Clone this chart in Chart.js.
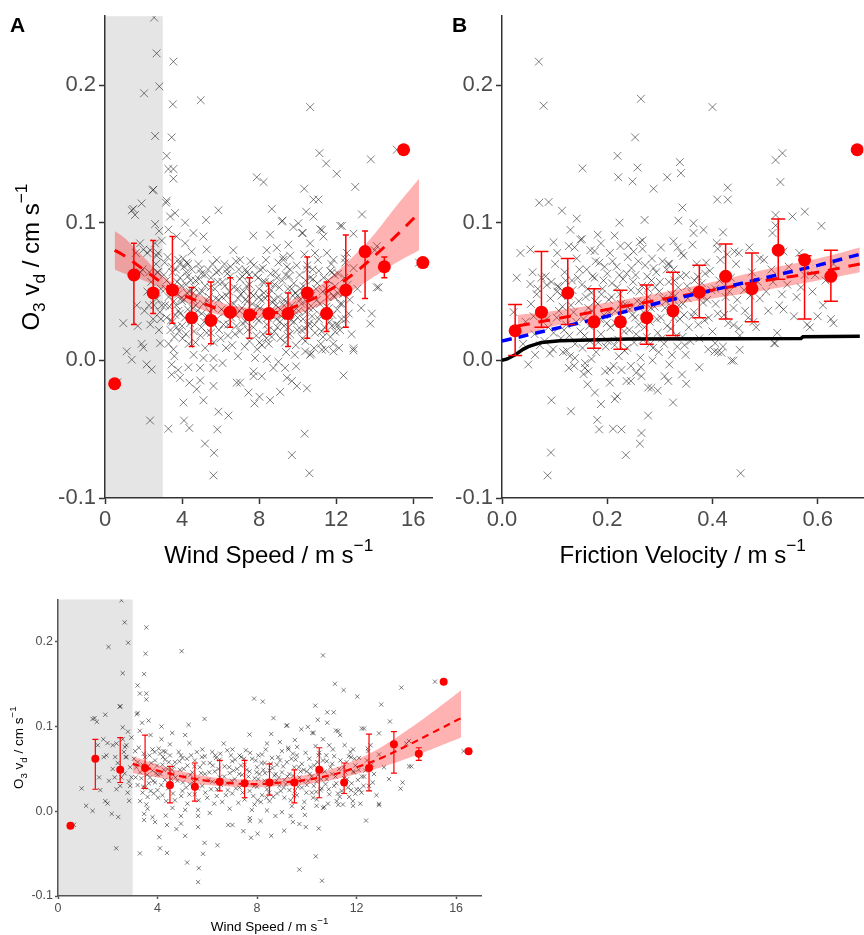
<!DOCTYPE html>
<html>
<head>
<meta charset="utf-8">
<script src="https://cdn.jsdelivr.net/npm/chart.js@4.4.1/dist/chart.umd.min.js"></script>
<style>
  html, body { margin: 0; padding: 0; background: #fff; overflow: hidden; width: 864px; height: 935px; }
  canvas { position: absolute; }
</style>
</head>
<body>
<canvas id="panelA" width="439" height="570" style="left:0;top:0"></canvas>
<canvas id="panelB" width="438" height="570" style="left:432px;top:0"></canvas>
<canvas id="panelC" width="486" height="345" style="left:0;top:590px"></canvas>
<script>
const FONT = "'Liberation Sans', Arial, Helvetica, sans-serif";

// ticks
const vdTicks = [-0.1, 0, 0.1, 0.2];
const vdTickLabels = ['-0.1', '0.0', '0.1', '0.2'];
const windTicks = [0, 4, 8, 12, 16];
const windTickLabels = ['0', '4', '8', '12', '16'];
const ustarTicks = [0, 0.2, 0.4, 0.6];
const ustarTickLabels = ['0.0', '0.2', '0.4', '0.6'];

// binned O3 vd vs wind speed (means and error bars)
const windBins = [0.5, 1.5, 2.5, 3.5, 4.5, 5.5, 6.5, 7.5, 8.5, 9.5, 10.5, 11.5, 12.5, 13.5, 14.5, 15.5, 16.5];
const windMean = [-0.017, 0.062, 0.049, 0.051, 0.031, 0.029, 0.035, 0.033, 0.034, 0.034, 0.049, 0.034, 0.051, 0.079, 0.068, 0.153, 0.071];
const windLo = [null, 0.026, 0.034, 0.027, 0.010, 0.012, 0.024, 0.016, 0.019, 0.010, 0.016, 0.021, 0.024, 0.045, 0.060, null, null];
const windHi = [null, 0.085, 0.087, 0.090, 0.053, 0.057, 0.060, 0.060, 0.056, 0.049, 0.075, 0.057, 0.091, 0.094, 0.075, null, null];

// fitted curve + confidence ribbon, panel A (all data)
const fitAx = [0.5, 1, 2, 3, 4, 5, 6, 7, 8, 9, 10, 11, 12, 13, 14, 15, 16.3];
const fitAy = [0.080, 0.076, 0.066, 0.056, 0.048, 0.042, 0.037, 0.035, 0.034, 0.035, 0.040, 0.046, 0.054, 0.064, 0.076, 0.089, 0.107];
const fitAlo = [0.066, 0.063, 0.058, 0.052, 0.044, 0.037, 0.033, 0.031, 0.031, 0.031, 0.034, 0.039, 0.045, 0.052, 0.061, 0.070, 0.080];
const fitAhi = [0.094, 0.089, 0.075, 0.061, 0.053, 0.047, 0.042, 0.039, 0.038, 0.039, 0.046, 0.053, 0.064, 0.077, 0.092, 0.110, 0.132];

// fitted curve + ribbon, panel C (wind > 3 m/s)
const fitCx = [3, 4, 5, 6, 7, 8, 9, 10, 11, 12, 13, 14, 15, 16.2];
const fitCy = [0.056, 0.048, 0.041, 0.036, 0.033, 0.032, 0.034, 0.037, 0.043, 0.052, 0.063, 0.077, 0.092, 0.110];
const fitClo = [0.045, 0.040, 0.035, 0.031, 0.029, 0.028, 0.030, 0.032, 0.037, 0.044, 0.052, 0.062, 0.073, 0.087];
const fitChi = [0.065, 0.055, 0.047, 0.041, 0.038, 0.037, 0.039, 0.043, 0.050, 0.061, 0.076, 0.095, 0.116, 0.143];

// binned O3 vd vs friction velocity
const ustarBins = [0.025, 0.075, 0.125, 0.175, 0.225, 0.275, 0.325, 0.375, 0.425, 0.475, 0.525, 0.575, 0.625, 0.675];
const ustarMean = [0.0215, 0.035, 0.049, 0.028, 0.028, 0.031, 0.036, 0.0495, 0.061, 0.052, 0.080, 0.073, 0.061, 0.153];
const ustarLo = [0.0036, 0.024, 0.026, 0.0088, 0.008, 0.0117, 0.018, 0.031, 0.030, 0.028, 0.059, 0.030, 0.043, null];
const ustarHi = [0.0406, 0.079, 0.074, 0.052, 0.051, 0.0547, 0.064, 0.069, 0.0846, 0.078, 0.1027, 0.076, 0.080, null];

// linear fit + ribbon, panel B
const fitBx = [0.03, 0.1, 0.2, 0.3, 0.4, 0.5, 0.6, 0.68];
const fitBy = [0.025, 0.030, 0.037, 0.044, 0.051, 0.058, 0.064, 0.070];
const fitBlo = [0.017, 0.025, 0.032, 0.039, 0.045, 0.051, 0.058, 0.064];
const fitBhi = [0.033, 0.036, 0.042, 0.049, 0.057, 0.066, 0.074, 0.082];

// model curves, panel B
const modelBlueX = [0, 0.1, 0.2, 0.3, 0.4, 0.5, 0.6, 0.68];
const modelBlueY = [0.014, 0.023, 0.032, 0.042, 0.051, 0.060, 0.069, 0.077];
const modelBlackX = [0, 0.01, 0.025, 0.04, 0.05, 0.075, 0.11, 0.24, 0.568, 0.572, 0.68];
const modelBlackY = [0, 0.001, 0.004, 0.008, 0.010, 0.013, 0.0143, 0.0155, 0.0158, 0.0172, 0.0175];

// individual observations [wind speed, vd]
const windObs = [
  [0.64,-0.016],[0.95,0.027],[1.13,0.0065],[1.39,0.0005],[1.47,0.110],[1.56,0.1056],[1.9,0.114],[1.99,0.0093],[1.9,0.012],[2.16,-0.003],
  [2.42,-0.0067],[2.34,-0.0437],[2.51,0.124],[2.6,0.099],[1.82,0.085],[1.99,0.0805],[2.2,0.078],[2.35,0.080],[2.6,0.085],[2.75,0.078],
  [1.6,0.078],[1.95,0.066],[2.4,0.057],[2.68,0.0447],[2.5,0.030],[1.65,0.040],[2.55,0.040],[1.7,0.025],[2.35,0.026],[2.86,0.0124],
  [2.8,0.022],[2.9,0.052],[2.72,0.064],[2.85,0.035],[2.2,0.050],[2.05,0.036],[2.55,0.249],[2.68,0.223],[2.82,0.199],[2.03,0.194],
  [2.6,0.163],[2.48,0.1235],[1.39,0.109],[2.95,0.087],[2.81,0.094],[2.28,0.040],[1.84,0.064],[2.69,0.076],[2.75,0.064],[2.95,0.040],
  [2.65,0.070],[2.3,0.064],[2.9,0.030],
  [3.55,0.217],[4.97,0.189],[3.52,0.186],[10.65,0.184],[3.46,0.162],[15.15,0.153],[11.13,0.1505],[11.48,0.143],[13.8,0.146],[3.2,0.1486],
  [3.29,0.139],[3.55,0.139],[3.55,0.132],[7.88,0.133],[8.23,0.1295],[12.03,0.1355],[12.99,0.126],[10.34,0.1247],[10.82,0.1168],[11.08,0.1168],
  [3.17,0.1145],[3.2,0.116],[5.89,0.109],[5.25,0.102],[8.66,0.110],[13.34,0.106],[10.44,0.108],[10.82,0.1045],[9.21,0.1015],[10.04,0.0996],
  [3.38,0.1045],[3.64,0.107],[4.16,0.100],[9.78,0.0968],[10.27,0.0925],[11.26,0.0948],[12.21,0.0977],[12.9,0.092],[4.59,0.0925],[5.28,0.0805],
  [8.57,0.0913],[7.7,0.0906],[14.11,0.083],[14.0,0.080],[14.11,0.053],[16.3,0.071],[11.69,0.065],[12.9,0.067],[13.85,0.034],[13.77,0.0267],
  [12.9,0.0088],[11.78,0.0638],[11.86,0.047],[12.21,0.041],[12.12,0.0256],[11.95,0.0208],[11.52,0.0781],[12.47,0.071],[14.2,0.053],[9.52,0.0841],
  [8.92,0.0817],[11.17,0.0953],[12.3,0.0977],[9.18,0.1009],[3.29,0.095],[3.72,0.090],[4.16,0.085],[4.5,0.079],[5.11,0.090],[5.8,0.073],
  [6.66,0.080],[7.01,0.073],[8.4,0.080],[9.26,0.073],[9.61,0.076],[10.22,0.0925],[10.65,0.085],[10.9,0.078],[11.34,0.090],[11.86,0.073],
  [12.56,0.078],[4.24,0.071],[4.94,0.066],[6.32,0.066],[7.36,0.064],[8.05,0.066],[9.44,0.068],[10.48,0.066],
  [3.29,-0.0497],[4.07,-0.0306],[4.1,-0.0437],[4.38,-0.0492],[4.33,-0.005],[3.46,-0.003],[3.9,-0.0127],[4.38,-0.0162],[4.76,-0.021],[4.94,-0.0146],
  [5.11,-0.029],[4.94,-0.0055],[5.63,-0.0055],[5.63,-0.0186],[5.89,-0.0373],[6.41,-0.0401],[5.83,-0.0502],[5.19,-0.0605],[5.66,-0.0672],[5.63,-0.0836],
  [6.84,-0.0162],[7.01,-0.0162],[7.45,-0.0234],[7.76,-0.0313],[8.02,-0.0265],[8.57,-0.0289],[9.09,-0.0229],[9.44,-0.0127],[9.96,-0.0186],[10.48,-0.0203],
  [9.7,-0.015],[10.36,-0.0533],[9.7,-0.0688],[10.61,-0.082],[12.38,-0.011],[12.9,0.0072],[7.71,-0.0115],[8.14,-0.0115],[7.71,-0.008],[8.74,-0.0055],
  [9.92,-0.0043],[7.79,0.0017],[5.11,0.0017],[5.63,0.0017],[3.46,-0.0103],[9.35,-0.0055],[10.39,0.0065],[11.86,0.0065],[11.26,0.0077],[10.65,0.004],
  [3.6,0.003],[4.6,0.004],[6.1,-0.002],[6.9,0.003],[8.4,0.001],[9.0,-0.001],[3.8,-0.007],
  [3.1,0.071],[3.2,0.058],[3.3,0.046],[3.2,0.031],[3.4,0.022],[3.3,0.012],[3.5,0.064],[3.6,0.052],[3.7,0.040],[3.5,0.028],
  [3.8,0.073],[3.6,0.017],[3.9,0.060],[3.8,0.048],[3.9,0.034],[4.0,0.025],[4.1,0.068],[4.2,0.055],[4.0,0.043],[4.3,0.061],
  [4.3,0.037],[4.2,0.019],[4.4,0.050],[4.5,0.066],[4.6,0.044],[4.5,0.029],[4.7,0.058],[4.8,0.036],[4.7,0.013],[4.9,0.049],
  [5.0,0.063],[5.0,0.024],[5.1,0.041],[5.2,0.054],[5.3,0.032],[5.2,0.009],[5.4,0.046],[5.5,0.060],[5.6,0.038],[5.5,0.020],
  [5.7,0.052],[5.8,0.030],[5.9,0.065],[5.9,0.044],[6.0,0.016],[6.1,0.057],[6.2,0.035],[6.2,0.070],[6.3,0.047],[6.4,0.026],
  [6.5,0.061],[6.5,0.040],[6.6,0.011],[6.7,0.053],[6.8,0.033],[6.8,0.072],[6.9,0.045],[7.0,0.021],[7.0,0.059],[7.1,0.038],
  [7.2,0.050],[7.3,0.028],[7.3,0.066],[7.4,0.043],[7.5,0.014],[7.5,0.055],[7.6,0.034],[7.7,0.047],[7.7,0.024],[7.8,0.062],
  [7.9,0.039],[7.9,0.008],[8.0,0.052],[8.0,0.029],[8.1,0.044],[8.2,0.019],[8.2,0.067],[8.3,0.036],[8.3,0.057],[8.4,0.026],
  [8.5,0.048],[8.5,0.012],[8.6,0.063],[8.6,0.033],[8.7,0.042],[8.8,0.021],[8.8,0.055],[8.9,0.030],[9.0,0.046],[9.0,0.071],
  [9.1,0.016],[9.1,0.037],[9.2,0.058],[9.3,0.025],[9.3,0.044],[9.4,0.006],[9.4,0.034],[9.5,0.052],[9.6,0.019],[9.6,0.066],
  [9.7,0.040],[9.8,0.028],[9.8,0.056],[9.9,0.011],[10.0,0.047],[10.0,0.031],[10.1,0.062],[10.2,0.022],[10.2,0.041],[10.3,0.054],
  [10.4,0.014],[10.4,0.035],[10.5,0.069],[10.6,0.027],[10.6,0.048],[10.7,0.005],[10.8,0.038],[10.8,0.059],[10.9,0.020],[11.0,0.044],
  [11.1,0.030],[11.1,0.065],[11.2,0.012],[11.3,0.050],[11.4,0.024],[11.5,0.039],[11.6,0.058],[11.7,0.017],[11.8,0.033],[11.9,0.046],
  [12.0,0.026],[12.1,0.063],[12.2,0.022],[12.3,0.041],[12.5,0.030],[12.6,0.055],[12.8,0.019],
  [3.15,0.052],[3.35,0.039],[3.45,0.068],[3.55,0.008],[3.65,0.033],[3.75,0.057],[3.85,0.021],[3.95,0.045],[4.05,0.074],[4.15,0.031],
  [4.25,0.049],[4.35,0.012],[4.45,0.058],[4.55,0.038],[4.65,0.053],[4.85,0.070],[4.95,0.018],[5.05,0.050],[5.15,0.028],[5.35,0.066],
  [5.45,0.035],[5.65,0.013],[5.75,0.045],[5.85,0.057],[6.05,0.037],[6.15,0.026],[6.35,0.063],[6.45,0.050],[6.55,0.031],[6.75,0.019],
  [6.95,0.066],[7.05,0.048],[7.15,0.027],[7.25,0.010],[7.35,0.054],[7.45,0.035],[7.55,0.072],[7.65,0.041],[7.85,0.018],[7.95,0.060],
  [8.05,0.038],[8.15,0.011],[8.25,0.049],[8.35,0.073],[8.45,0.031],[8.55,0.056],[8.65,0.017],[8.75,0.044],[8.85,0.064],[8.95,0.024],
  [9.05,0.053],[9.15,0.032],[9.25,0.075],[9.35,0.013],[9.45,0.042],[9.55,0.061],[9.65,0.029],[9.75,0.047],[9.85,0.004],[9.95,0.069],
  [10.05,0.036],[10.15,0.052],[10.25,0.016],[10.35,0.077],[10.45,0.043],[10.55,0.025],[10.65,0.060],[10.75,0.032],[10.85,0.009],[10.95,0.052],
  [11.05,0.073],[11.15,0.041],[11.25,0.021],[11.35,0.060],[11.45,0.008],[11.55,0.046],[11.65,0.028],[11.75,0.070],[11.85,0.012],[11.95,0.054],
  [12.05,0.037],[12.15,0.009],[12.35,0.048],[12.45,0.074],[12.65,0.034],
  [3.05,0.062],[3.25,0.075],[3.4,0.055],[3.58,0.043],[3.68,0.066],[3.82,0.036],[3.98,0.054],[4.12,0.044],[4.22,0.064],[4.42,0.027],
  [4.58,0.049],[4.72,0.040],[4.88,0.059],[5.02,0.034],[5.18,0.062],[5.32,0.043],[5.48,0.053],[5.62,0.027],[5.78,0.064],[5.92,0.022],
  [6.08,0.046],[6.22,0.054],[6.38,0.018],[6.52,0.068],[6.68,0.041],[6.82,0.025],[6.98,0.036],[7.12,0.061],[7.28,0.044],[7.42,0.022],
  [7.58,0.049],[7.72,0.069],[7.88,0.030],[8.02,0.013],[8.18,0.057],[8.32,0.045],[8.48,0.022],[8.62,0.051],[8.78,0.036],[8.92,0.060],
  [9.08,0.028],[9.22,0.041],[9.38,0.062],[9.52,0.024],[9.68,0.052],[9.82,0.036],[9.98,0.022],[10.12,0.044],[10.28,0.030],[10.42,0.058],
  [10.58,0.038],[10.72,0.047],[10.88,0.026],[11.02,0.056],[11.18,0.033],[11.32,0.017],[11.48,0.052],[11.62,0.038],[11.78,0.025],[11.92,0.062],
  [12.08,0.049],[12.28,0.030],[12.42,0.060],[12.7,0.044],[13.1,0.052],[13.3,0.038],[3.12,0.040],[3.42,0.029],[3.72,0.024],[3.88,0.070],
  [4.02,0.016],[4.32,0.070],[4.62,0.021],[5.28,0.020],[5.58,0.070],[6.28,0.009],[6.88,0.052],[7.48,0.062],[7.98,0.046],[8.38,0.016],
  [8.88,0.040],[9.48,0.018],[9.88,0.049],[10.38,0.023],[10.78,0.066]
];

// individual observations [friction velocity, vd]
const ustarObs = [
  [0.070,0.217],[0.079,0.185],[0.264,0.190],[0.40,0.184],[0.253,0.162],[0.2195,0.1486],[0.2575,0.140],[0.153,0.1395],[0.221,0.133],[0.248,0.130],
  [0.338,0.144],[0.340,0.136],[0.314,0.133],[0.288,0.1247],[0.52,0.1455],[0.533,0.1505],[0.529,0.1295],[0.429,0.1255],[0.429,0.1168],[0.409,0.1168],
  [0.0708,0.1145],[0.0886,0.115],[0.114,0.1087],[0.142,0.103],[0.2233,0.100],[0.271,0.102],[0.343,0.111],[0.52,0.1056],[0.552,0.1045],[0.5755,0.108],
  [0.607,0.0977],[0.335,0.1015],[0.364,0.0996],[0.364,0.0925],[0.383,0.0948],[0.42,0.093],[0.514,0.0925],[0.52,0.098],[0.054,0.0805],[0.054,0.0554],
  [0.085,0.0547],[0.106,0.054],[0.098,0.0858],[0.105,0.078],[0.13,0.0948],[0.127,0.083],[0.149,0.0877],[0.182,0.0913],[0.214,0.0906],[0.176,0.0794],
  [0.24,0.0834],[0.267,0.0872],[0.267,0.081],[0.326,0.0865],[0.334,0.082],[0.408,0.0853],[0.442,0.079],[0.45,0.078],[0.47,0.082],[0.49,0.074],
  [0.535,0.079],[0.565,0.078],[0.63,0.070],
  [0.050,-0.003],[0.094,-0.029],[0.131,-0.037],[0.093,-0.067],[0.0867,-0.0836],[0.127,-0.0055],[0.091,0.005],[0.063,0.004],[0.123,0.007],[0.1385,0.0017],
  [0.1575,-0.0055],[0.155,-0.010],[0.164,-0.008],[0.1625,-0.0174],[0.1765,-0.0234],[0.188,-0.0318],[0.181,-0.0432],[0.1846,-0.0502],[0.211,-0.0497],[0.227,-0.0502],
  [0.2145,-0.0282],[0.219,-0.026],[0.205,-0.0162],[0.205,-0.007],[0.227,-0.007],[0.2366,-0.015],[0.245,-0.015],[0.245,-0.004],[0.264,-0.005],[0.265,-0.0115],
  [0.2777,-0.0198],[0.284,-0.02],[0.296,-0.022],[0.2777,-0.0401],[0.265,-0.0528],[0.262,-0.0605],[0.2353,-0.0688],[0.309,-0.0115],[0.316,-0.015],[0.325,-0.0306],
  [0.342,-0.0103],[0.35,-0.017],[0.436,-0.0002],[0.4516,0.0077],[0.517,0.0124],[0.4535,-0.082],[0.404,0.0065],[0.417,0.0055],[0.44,0.0256],[0.45,0.0232],
  [0.478,0.028],[0.519,0.0124],[0.535,0.037],[0.585,0.024],[0.6,0.032],[0.63,0.027],[0.405,0.0124],[0.41,0.006],[0.44,-0.0002],
  [0.045,0.028],[0.055,0.041],[0.062,0.019],[0.068,0.052],[0.072,0.011],[0.078,0.034],[0.083,0.061],[0.088,0.024],[0.092,0.045],[0.097,0.008],
  [0.101,0.070],[0.104,0.031],[0.108,0.053],[0.112,0.016],[0.115,0.039],[0.119,0.064],[0.122,0.026],[0.126,0.047],[0.129,0.003],[0.133,0.058],
  [0.136,0.035],[0.139,0.012],[0.142,0.074],[0.146,0.043],[0.149,0.021],[0.152,0.055],[0.155,0.030],[0.158,-0.002],[0.161,0.066],[0.164,0.038],
  [0.167,0.014],[0.170,0.049],[0.173,0.027],[0.176,0.060],[0.179,0.006],[0.182,0.041],[0.185,0.071],[0.188,0.019],[0.191,0.052],[0.194,0.033],
  [0.197,0.010],[0.200,0.063],[0.203,0.044],[0.206,0.024],[0.209,0.056],[0.212,-0.004],[0.215,0.036],[0.218,0.068],[0.221,0.015],[0.224,0.048],
  [0.227,0.029],[0.230,0.059],[0.233,0.007],[0.236,0.040],[0.239,0.075],[0.242,0.022],[0.245,0.051],[0.248,0.033],[0.251,0.013],[0.254,0.062],
  [0.257,0.043],[0.260,0.026],[0.263,0.002],[0.266,0.054],[0.269,0.035],[0.272,0.069],[0.275,0.017],[0.278,0.046],[0.281,0.028],[0.284,0.058],
  [0.287,0.009],[0.290,0.039],[0.293,0.064],[0.296,0.020],[0.299,0.050],[0.302,0.031],[0.305,0.072],[0.308,0.012],[0.311,0.043],[0.314,0.025],
  [0.317,0.057],[0.320,0.036],[0.323,0.004],[0.326,0.066],[0.329,0.047],[0.332,0.018],[0.335,0.053],[0.338,0.030],[0.341,0.078],[0.344,0.041],
  [0.347,0.011],[0.350,0.062],[0.355,0.024],[0.360,0.049],[0.365,0.035],[0.370,0.070],[0.375,0.016],[0.380,0.056],[0.385,0.029],[0.390,0.044],
  [0.395,0.065],[0.400,0.021],[0.405,0.052],[0.410,0.034],[0.415,0.073],[0.420,0.010],[0.425,0.046],[0.430,0.027],[0.435,0.060],[0.440,0.038],
  [0.445,0.070],[0.452,0.018],[0.460,0.051],[0.468,0.031],[0.475,0.064],[0.483,0.024],[0.490,0.045],[0.498,0.073],[0.506,0.036],[0.515,0.057],
  [0.523,0.020],[0.532,0.048],[0.545,0.068],[0.555,0.032],[0.568,0.053],[0.580,0.026],[0.595,0.062],[0.610,0.040],[0.625,0.030],
  [0.105,0.050],[0.118,0.022],[0.131,0.040],[0.144,0.060],[0.157,0.018],[0.163,0.052],[0.171,0.036],[0.178,0.072],[0.186,0.030],[0.193,0.058],
  [0.201,0.014],[0.208,0.046],[0.216,0.027],[0.223,0.062],[0.231,0.040],[0.238,0.009],[0.246,0.067],[0.253,0.031],[0.261,0.050],[0.268,0.015],
  [0.276,0.061],[0.283,0.038],[0.291,0.053],[0.298,0.006],[0.306,0.045],[0.313,0.066],[0.321,0.023],[0.328,0.058],[0.336,0.040],[0.343,0.017],
  [0.352,0.054],[0.362,0.032],[0.372,0.061],[0.382,0.042],[0.058,0.064],[0.066,0.048],[0.081,0.014],[0.094,0.057],[0.138,0.082],[0.152,0.088],
  [0.168,0.080],[0.188,0.085],[0.205,0.078],[0.225,0.083],[0.250,0.079],[0.262,0.086],[0.285,0.074],[0.302,0.082],[0.318,0.070],[0.345,0.076],
  [0.362,0.084],[0.388,0.071],[0.410,0.081],[0.428,0.077],[0.035,0.078],[0.022,0.035],[0.028,0.060],[0.040,0.012],
  [0.108,0.036],[0.113,0.047],[0.121,0.058],[0.128,0.018],[0.134,0.051],[0.141,0.028],[0.147,0.066],[0.153,0.009],[0.159,0.046],[0.166,0.025],
  [0.172,0.061],[0.177,0.043],[0.183,0.013],[0.189,0.048],[0.195,0.068],[0.199,0.027],[0.204,0.035],[0.210,0.072],[0.214,0.011],[0.219,0.053],
  [0.226,0.041],[0.232,0.021],[0.237,0.063],[0.243,0.037],[0.249,0.057],[0.255,0.019],[0.259,0.072],[0.265,0.042],[0.271,0.024],[0.277,0.052],
  [0.282,0.012],[0.288,0.067],[0.294,0.030],[0.300,0.057],[0.304,0.016],[0.310,0.038],[0.316,0.070],[0.322,0.048],[0.327,0.031],[0.333,0.010],
  [0.339,0.061],[0.346,0.033],[0.353,0.045],[0.358,0.014],[0.366,0.058],[0.373,0.026],[0.378,0.047],[0.386,0.063],[0.393,0.031],[0.398,0.051],
  [0.406,0.041],[0.413,0.058],[0.422,0.033],[0.432,0.050],[0.447,0.044],[0.462,0.036],[0.472,0.047],[0.486,0.057],[0.502,0.050],[0.512,0.066],
  [0.527,0.040],[0.542,0.055],[0.560,0.046],[0.575,0.062],[0.590,0.050],[0.615,0.058],[0.116,0.006],[0.137,-0.004],[0.170,0.001],[0.196,-0.008],
  [0.222,0.003],[0.255,-0.009],[0.286,0.000],[0.318,-0.003],[0.349,0.004],[0.375,-0.005],[0.392,0.008],[0.085,0.030],[0.075,0.060],[0.060,0.032],
  [0.098,0.020]
];

const yTitle = [{t: 'O'}, {t: '3', k: 'sub'}, {t: ' v'}, {t: 'd', k: 'sub'}, {t: ' / cm s'}, {t: '\u22121', k: 'sup'}];
const windTitle = [{t: 'Wind Speed / m s'}, {t: '\u22121', k: 'sup'}];
const ustarTitle = [{t: 'Friction Velocity / m s'}, {t: '\u22121', k: 'sup'}];

function drawRich(ctx, segs, x, y, size, vertical) {
  ctx.save();
  ctx.translate(x, y);
  if (vertical) ctx.rotate(-Math.PI / 2);
  ctx.fillStyle = '#000';
  ctx.textBaseline = 'alphabetic';
  ctx.textAlign = 'left';
  const fontOf = s => (s.k ? size * 0.72 : size) + 'px ' + FONT;
  let total = 0;
  for (const s of segs) { ctx.font = fontOf(s); total += ctx.measureText(s.t).width; }
  let cx = -total / 2;
  for (const s of segs) {
    ctx.font = fontOf(s);
    const dy = s.k === 'sub' ? size * 0.28 : s.k === 'sup' ? -size * 0.5 : 0;
    ctx.fillText(s.t, cx, dy);
    cx += ctx.measureText(s.t).width;
  }
  ctx.restore();
}

function decor(p) {
  return {
    id: 'decor' + p.id,
    beforeDraw(chart) {
      if (p.shadeTo == null) return;
      const {ctx, chartArea: a, scales: {x}} = chart;
      ctx.save();
      ctx.fillStyle = '#e5e5e5';
      ctx.fillRect(a.left, a.top, x.getPixelForValue(p.shadeTo) - a.left, a.bottom - a.top);
      ctx.restore();
    },
    beforeDatasetDraw(chart, args) {
      if (args.index !== p.meansIndex) return;
      const {ctx, scales: {x, y}} = chart;
      ctx.save();
      ctx.strokeStyle = 'red';
      ctx.lineWidth = p.ebw;
      p.bins.forEach((b, i) => {
        if (p.lo[i] == null) return;
        const px = x.getPixelForValue(b);
        const y0 = y.getPixelForValue(p.lo[i]);
        const y1 = y.getPixelForValue(p.hi[i]);
        ctx.beginPath();
        ctx.moveTo(px, y0); ctx.lineTo(px, y1);
        ctx.moveTo(px - p.cap, y0); ctx.lineTo(px + p.cap, y0);
        ctx.moveTo(px - p.cap, y1); ctx.lineTo(px + p.cap, y1);
        ctx.stroke();
      });
      ctx.restore();
    },
    afterDraw(chart) {
      const {ctx, chartArea: a} = chart;
      drawRich(ctx, p.xTitle, (a.left + a.right) / 2, p.xTitleY, p.titleSize, false);
      if (p.yTitle) drawRich(ctx, p.yTitle, p.yTitleX, (a.top + a.bottom) / 2, p.titleSize, true);
      if (p.label) {
        ctx.save();
        ctx.font = 'bold ' + p.labelSize + 'px ' + FONT;
        ctx.fillStyle = '#000';
        ctx.fillText(p.label, p.labelX, p.labelY);
        ctx.restore();
      }
    }
  };
}

function axis(p, ticks, labels, min, max, isX) {
  return {
    type: 'linear', min, max,
    afterBuildTicks: s => { s.ticks = ticks.map(v => ({value: v})); },
    afterFit: s => { if (isX) s.height = p.xH; else s.width = p.yW; },
    grid: {drawOnChartArea: false, drawTicks: true, tickLength: p.tl, tickColor: p.axisCol, tickWidth: p.lw},
    border: {display: true, color: p.axisCol, width: p.lw},
    ticks: {
      autoSkip: false, maxRotation: 0, padding: p.pad, color: '#4d4d4d',
      font: {family: FONT, size: p.fs},
      callback: (v, i) => labels[i]
    }
  };
}

function pts(xs, ys) { return xs.map((x, i) => ({x, y: ys[i]})); }

function build(p) {
  const ds = [
    {type: 'scatter', data: p.obs.map(([x, y]) => ({x, y})), pointStyle: 'crossRot', radius: p.xr,
     borderColor: 'rgba(0,0,0,0.5)', borderWidth: 1, backgroundColor: 'rgba(0,0,0,0)', order: 6},
    {type: 'line', data: pts(p.fitX, p.fitLo), borderColor: 'rgba(0,0,0,0)', pointRadius: 0, fill: false, tension: 0.4, order: 5},
    {type: 'line', data: pts(p.fitX, p.fitHi), borderColor: 'rgba(0,0,0,0)', pointRadius: 0, fill: '-1',
     backgroundColor: 'rgba(255,0,0,0.3)', tension: 0.4, order: 4},
    {type: 'line', data: pts(p.fitX, p.fitY), borderColor: 'red', borderWidth: p.fitW, borderDash: p.dash,
     pointRadius: 0, fill: false, tension: 0.4, order: 2}
  ];
  (p.extra || []).forEach(e => ds.push(e));
  ds.push({type: 'scatter', data: pts(p.bins, p.mean), pointStyle: 'circle', radius: p.meanR,
    backgroundColor: 'red', borderColor: 'red', borderWidth: 0, order: 0});
  p.meansIndex = ds.length - 1;
  new Chart(document.getElementById(p.id), {
    data: {datasets: ds},
    options: {
      responsive: false, animation: false, devicePixelRatio: 1,
      layout: {padding: {left: 0, top: p.top, right: 0, bottom: 0}},
      plugins: {legend: {display: false}, tooltip: {enabled: false}},
      scales: {
        x: axis(p, p.xTicks, p.xLabels, p.xMin, p.xMax, true),
        y: axis(p, vdTicks, vdTickLabels, -0.1, 0.25, false)
      }
    },
    plugins: [decor(p)]
  });
}

const big = {fs: 22, tl: 6, pad: 3, lw: 1.5, axisCol: '#333', xH: 72, top: 10, titleSize: 24,
  xTitleY: 563, xr: 5.5, meanR: 6.5, ebw: 1.5, fitW: 3, dash: [12, 9], labelSize: 21, labelY: 32};

build(Object.assign({}, big, {
  id: 'panelA', yW: 105, cap: 3, shadeTo: 3,
  obs: windObs, xTicks: windTicks, xLabels: windTickLabels, xMin: 0, xMax: 17,
  fitX: fitAx, fitY: fitAy, fitLo: fitAlo, fitHi: fitAhi,
  bins: windBins, mean: windMean, lo: windLo, hi: windHi,
  xTitle: windTitle, yTitle: yTitle, yTitleX: 38.5, label: 'A', labelX: 10
}));

build(Object.assign({}, big, {
  id: 'panelB', yW: 70, cap: 7,
  obs: ustarObs, xTicks: ustarTicks, xLabels: ustarTickLabels, xMin: 0, xMax: 0.687,
  fitX: fitBx, fitY: fitBy, fitLo: fitBlo, fitHi: fitBhi,
  bins: ustarBins, mean: ustarMean, lo: ustarLo, hi: ustarHi,
  xTitle: ustarTitle, label: 'B', labelX: 20,
  extra: [
    {type: 'line', data: pts(modelBlackX, modelBlackY), borderColor: '#000', borderWidth: 3.5,
     pointRadius: 0, fill: false, order: 3},
    {type: 'line', data: pts(modelBlueX, modelBlueY), borderColor: '#0000ff', borderWidth: 3.5, borderDash: [10, 7],
     pointRadius: 0, fill: false, order: 1}
  ]
}));

build({
  id: 'panelC', fs: 12.5, tl: 3, pad: 2, lw: 1.5, axisCol: '#555', xH: 39, top: 9, yW: 58, titleSize: 13.5,
  xTitleY: 341, xr: 3, meanR: 4, ebw: 1.2, cap: 3, fitW: 2.2, dash: [7, 5], shadeTo: 3,
  obs: windObs, xTicks: windTicks, xLabels: windTickLabels, xMin: 0, xMax: 17,
  fitX: fitCx, fitY: fitCy, fitLo: fitClo, fitHi: fitChi,
  bins: windBins, mean: windMean, lo: windLo, hi: windHi,
  xTitle: windTitle, yTitle: yTitle, yTitleX: 23
});
</script>
</body>
</html>
